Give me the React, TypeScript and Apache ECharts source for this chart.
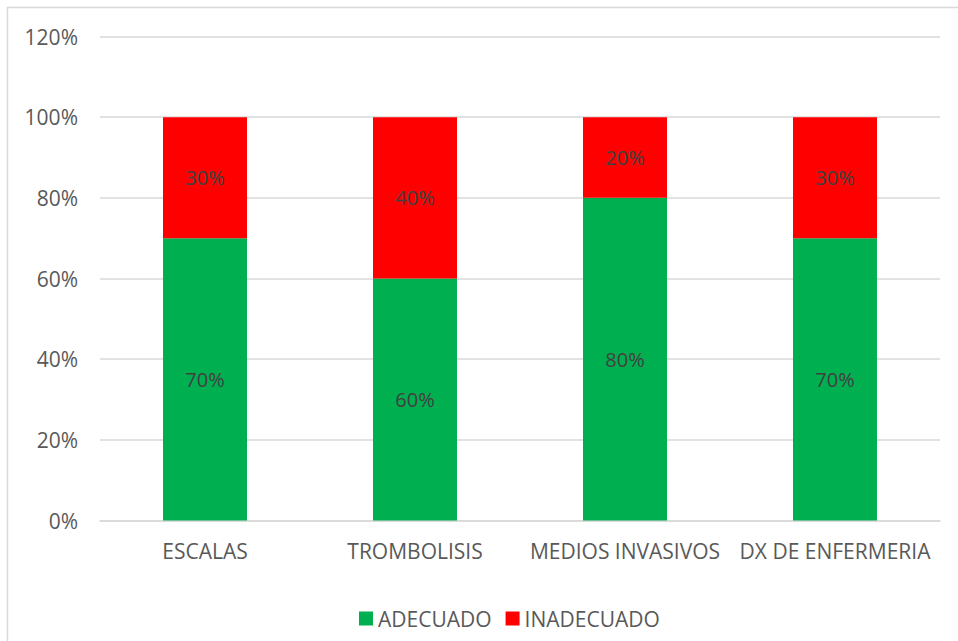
import React, { useEffect, useRef } from "react";
import * as echarts from "echarts";

const categories = ["ESCALAS", "TROMBOLISIS", "MEDIOS INVASIVOS", "DX DE ENFERMERIA"];
const adecuado = [70, 60, 80, 70];
const inadecuado = [30, 40, 20, 30];
const seriesNames = ["ADECUADO", "INADECUADO"];
const FONT = "'Open Sans', 'Liberation Sans', sans-serif";

export default function App() {
  const ref = useRef<HTMLDivElement>(null);
  useEffect(() => {
    if (!ref.current) return;
    const chart = echarts.init(ref.current, undefined, { renderer: "svg" });
    const label = {
      show: true,
      position: "inside",
      formatter: (p: any) => p.value + "%",
      color: "#404040",
      fontSize: 20,
      fontFamily: FONT,
    };
    chart.setOption({
      animation: false,
      backgroundColor: "#ffffff",
      graphic: [
        {
          type: "rect",
          shape: { x: 7.5, y: 7.5, width: 1200, height: 1200 },
          style: { fill: "none", stroke: "#d9d9d9", lineWidth: 1.5 },
          silent: true,
        },
      ],
      grid: { left: 100, right: 18, top: 36.5, bottom: 120.5, containLabel: false },
      legend: {
        top: 603,
        left: 354,
        itemWidth: 14,
        itemHeight: 14,
        itemGap: 14,
        icon: "rect",
        textStyle: { color: "#595959", fontSize: 21, fontFamily: FONT },
        data: seriesNames,
      },
      xAxis: {
        type: "category",
        data: categories,
        axisLine: { lineStyle: { color: "#d9d9d9", width: 1.5 } },
        axisTick: { show: false },
        axisLabel: { color: "#595959", fontSize: 21, fontFamily: FONT, margin: 20, interval: 0 },
      },
      yAxis: {
        type: "value",
        min: 0,
        max: 120,
        interval: 20,
        axisLine: { show: false },
        axisTick: { show: false },
        splitLine: { lineStyle: { color: "#d9d9d9", width: 1.5 } },
        axisLabel: {
          color: "#595959",
          fontSize: 21,
          fontFamily: FONT,
          margin: 22,
          formatter: (v: number) => v + "%",
        },
      },
      series: [
        {
          name: seriesNames[0],
          type: "bar",
          stack: "total",
          data: adecuado,
          barWidth: "40%",
          itemStyle: { color: "#00B050" },
          label,
        },
        {
          name: seriesNames[1],
          type: "bar",
          stack: "total",
          data: inadecuado,
          barWidth: "40%",
          itemStyle: { color: "#FF0000" },
          label,
        },
      ],
    });
    return () => chart.dispose();
  }, []);
  return (
    <div
      ref={ref}
      style={{ position: "absolute", left: 0, top: 0, width: 958, height: 641 }}
    />
  );
}
